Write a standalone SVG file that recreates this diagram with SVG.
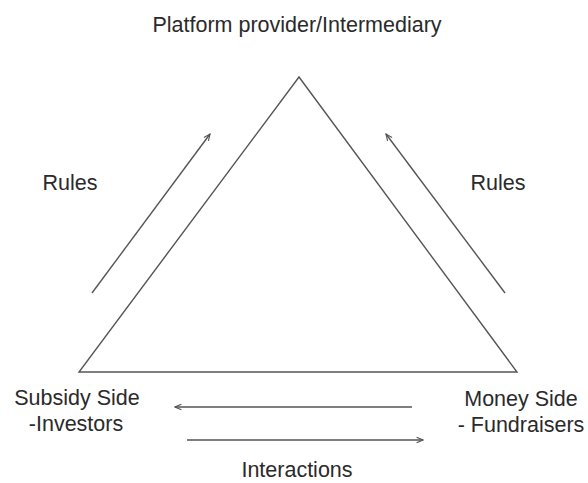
<svg xmlns="http://www.w3.org/2000/svg" width="588" height="483" viewBox="0 0 588 483">
<defs>
<style>
text{font-family:"Liberation Sans",Arial,sans-serif;font-size:21.5px;fill:#2a2a2a}
.ln{stroke:#555;stroke-width:1.4;fill:none}
</style>
<marker id="ah" viewBox="0 0 10 10" refX="9" refY="5" markerWidth="8" markerHeight="8" orient="auto" markerUnits="userSpaceOnUse">
<path d="M1,1.5 L9,5 L1,8.5" fill="none" stroke="#555" stroke-width="1.4"/>
</marker>
</defs>
<rect width="588" height="483" fill="#fff"/>
<g id="triangle"><path class="ln" d="M299,77 L517,372 L79,372 Z"/></g>
<g id="platform"><text x="297" y="32" text-anchor="middle">Platform provider/Intermediary</text></g>
<g id="subsidy"><text x="77" y="405" text-anchor="middle">Subsidy Side</text><text x="76" y="431" text-anchor="middle">-Investors</text></g>
<g id="money"><text x="521" y="406" text-anchor="middle">Money Side</text><text x="521" y="432" text-anchor="middle">- Fundraisers</text></g>
<g id="labels"><text x="70" y="190" text-anchor="middle">Rules</text><text x="498" y="190" text-anchor="middle">Rules</text><text x="297" y="477" text-anchor="middle">Interactions</text></g>
<g id="connectors">
<line class="ln" x1="92" y1="293" x2="210" y2="134" marker-end="url(#ah)"/>
<line class="ln" x1="505" y1="293" x2="386" y2="134" marker-end="url(#ah)"/>
<line class="ln" x1="412" y1="407" x2="175" y2="407" marker-end="url(#ah)"/>
<line class="ln" x1="187" y1="440" x2="423" y2="440" marker-end="url(#ah)"/>
</g>
</svg>
